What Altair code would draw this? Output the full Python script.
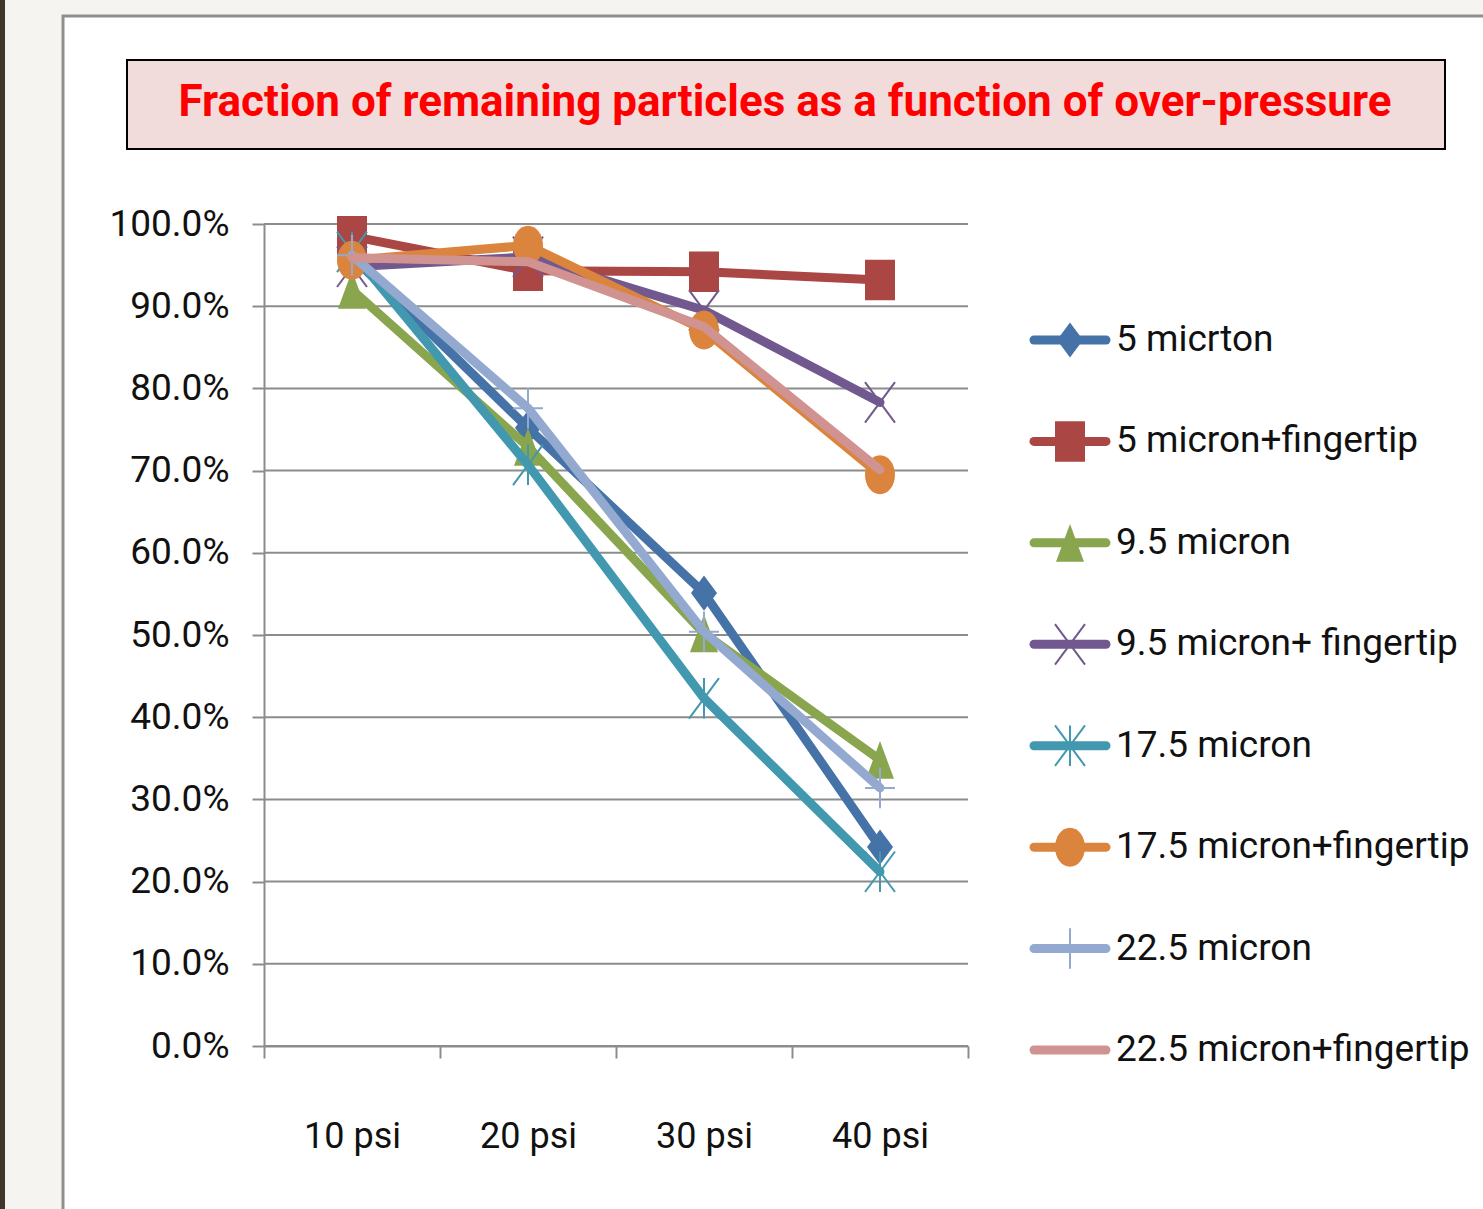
import altair as alt
import pandas as pd

# ---- data -------------------------------------------------------------
pressures = ["10 psi", "20 psi", "30 psi", "40 psi"]
series_names = [
    "5 micrton",
    "5 micron+fingertip",
    "9.5 micron",
    "9.5 micron+ fingertip",
    "17.5 micron",
    "17.5 micron+fingertip",
    "22.5 micron",
    "22.5 micron+fingertip",
]
frac_5 = [0.960, 0.752, 0.551, 0.242]
frac_5_tip = [0.985, 0.943, 0.942, 0.932]
frac_9_5 = [0.920, 0.729, 0.502, 0.348]
frac_9_5_tip = [0.948, 0.960, 0.895, 0.783]
frac_17_5 = [0.966, 0.707, 0.423, 0.212]
frac_17_5_tip = [0.956, 0.974, 0.871, 0.695]
frac_22_5 = [0.962, 0.776, 0.504, 0.314]
frac_22_5_tip = [0.959, 0.954, 0.875, 0.701]
series_values = [frac_5, frac_5_tip, frac_9_5, frac_9_5_tip,
                 frac_17_5, frac_17_5_tip, frac_22_5, frac_22_5_tip]
y_ticks = [i / 10 for i in range(11)]
title_text = "Fraction of remaining particles as a function of over-pressure"

# ---- styling ----------------------------------------------------------
colors = ["#4572A7", "#AA4643", "#89A54E", "#71588F",
          "#4198AF", "#DB843D", "#93A9CF", "#D19392"]
FONT = "Roboto, Open Sans, sans-serif"
GRID = "#8c8c8c"
TEXT = "#111111"
LINE_W = 9

DIAMOND = "M0,-1.35L1,0L0,1.35L-1,0Z"
SQUARE = "M-1,-1.35H1V1.35H-1Z"
TRIANGLE = "M0,-1.35L1,1.35L-1,1.35Z"
XMARK = "M-1,-1.35L1,1.35M1,-1.35L-1,1.35"
STAR = "M-1,-1.35L1,1.35M1,-1.35L-1,1.35M0,-1.35V1.35"
ELLIPSE = "M-1,0A1,1.3,0,1,1,1,0A1,1.3,0,1,1,-1,0Z"
PLUS = "M-1,0H1M0,-1.35V1.35"
# (shape, filled, size) per series; the last series has no marker
markers = [(DIAMOND, True, 676), (SQUARE, True, 900), (TRIANGLE, True, 784),
           (XMARK, False, 900), (STAR, False, 900), (ELLIPSE, True, 900),
           (PLUS, False, 900), None]

rows = [{"series": n, "pressure": p, "value": v}
        for n, vals in zip(series_names, series_values)
        for p, v in zip(pressures, vals)]
df = pd.DataFrame(rows)
legend_df = pd.DataFrame({"series": series_names})
grid_df = pd.DataFrame({"value": y_ticks})
one = pd.DataFrame({"title": [title_text]})

W, H = 704, 822
PAD = {"left": 264, "top": 224, "right": 515, "bottom": 163}

# ---- backdrop: page, chart panel and title box ------------------------
strip = alt.Chart(one).mark_rect(fill="#3f372b").encode(
    x=alt.value(-264), x2=alt.value(-259), y=alt.value(-224), y2=alt.value(990))
panel = alt.Chart(one).mark_rect(fill="white", stroke="#8f8f8f", strokeWidth=3).encode(
    x=alt.value(-201), x2=alt.value(1260), y=alt.value(-208), y2=alt.value(1030))
title_box = alt.Chart(one).mark_rect(fill="#f2dcdb", stroke="black", strokeWidth=2).encode(
    x=alt.value(-137), x2=alt.value(1181), y=alt.value(-164), y2=alt.value(-75))
title = alt.Chart(one).mark_text(
    font=FONT, fontSize=44, fontWeight="bold", color="#ff0000",
    align="center", baseline="middle").encode(
    x=alt.value(521), y=alt.value(-121), text="title:N")

# ---- main plot ---------------------------------------------------------
x_axis = alt.Axis(title=None, labelAngle=0, tickBand="extent", tickSize=12, tickWidth=2,
                  tickColor=GRID, domainColor=GRID, domainWidth=2, grid=False, zindex=1,
                  labelFont=FONT, labelFontSize=36, labelColor=TEXT, labelPadding=61)
y_axis = alt.Axis(title=None, format=".1%", values=y_ticks, tickSize=12, tickWidth=2,
                  tickColor=GRID, domainColor=GRID, domainWidth=2, grid=False, zindex=1,
                  labelFont=FONT, labelFontSize=37, labelColor=TEXT, labelPadding=23)
x_enc = alt.X("pressure:N", bandPosition=0.5, axis=x_axis,
              scale=alt.Scale(type="band", domain=pressures, paddingInner=0, paddingOuter=0))
y_scale = alt.Scale(domain=[0, 1], nice=False)
y_enc = alt.Y("value:Q", axis=y_axis, scale=y_scale)

# horizontal gridlines sit under the series
gridlines = alt.Chart(grid_df).mark_rule(color=GRID, strokeWidth=2).encode(
    y=alt.Y("value:Q", scale=y_scale, axis=y_axis))

main_layers = [gridlines]
for name, color, mk in zip(series_names, colors, markers):
    base = alt.Chart(df).transform_filter(alt.datum.series == name)
    main_layers.append(base.mark_line(color=color, strokeWidth=LINE_W, strokeJoin="round",
                                      strokeCap="round").encode(x=x_enc, y=y_enc))
    if mk is not None:
        shape, filled, size = mk
        main_layers.append(base.mark_point(shape=shape, filled=filled, size=size, color=color,
                                           opacity=1, strokeWidth=2).encode(x=x_enc, y=y_enc))
main = alt.layer(*main_layers)

# ---- legend -------------------------------------------------------------
ly = alt.Y("series:N", axis=None,
           scale=alt.Scale(type="point", domain=series_names, range=[116, 826], padding=0))
legend_layers = []
for name, color, mk in zip(series_names, colors, markers):
    base = alt.Chart(legend_df).transform_filter(alt.datum.series == name)
    legend_layers.append(base.mark_rule(color=color, strokeWidth=LINE_W, strokeCap="round").encode(
        x=alt.value(770), x2=alt.value(842), y=ly))
    if mk is not None:
        shape, filled, size = mk
        legend_layers.append(base.mark_point(shape=shape, filled=filled, size=size, color=color,
                                             opacity=1, strokeWidth=2).encode(
            x=alt.value(806), y=ly))
legend_layers.append(alt.Chart(legend_df).mark_text(
    align="left", baseline="middle", font=FONT, fontSize=37, color=TEXT).encode(
    x=alt.value(852), y=ly, text="series:N"))
legend = alt.layer(*legend_layers)

chart = alt.layer(strip, panel, title_box, title, main, legend).resolve_scale(
    x="independent", y="independent"
).properties(
    width=W, height=H, padding=PAD,
    autosize=alt.AutoSizeParams(type="none"),
    background="#f5f4f0",
).configure_view(stroke=None)

chart.save("out.html", embed_options={"renderer": "svg", "actions": False})
